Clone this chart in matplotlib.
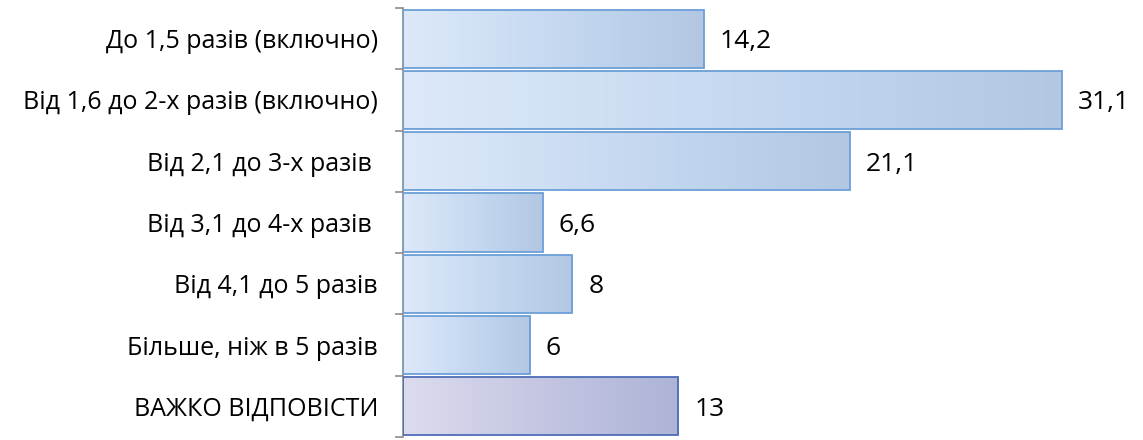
import numpy as np
import matplotlib.pyplot as plt
from matplotlib.patches import Rectangle
from matplotlib.colors import LinearSegmentedColormap

categories = ['До 1,5 разів (включно)', 'Від 1,6 до 2-х разів (включно)',
              'Від 2,1 до 3-х разів ', 'Від 3,1 до 4-х разів ',
              'Від 4,1 до 5 разів', 'Більше, ніж в 5 разів', 'ВАЖКО ВІДПОВІСТИ']
values = [14.2, 31.1, 21.1, 6.6, 8, 6, 13]
labels = ['14,2', '31,1', '21,1', '6,6', '8', '6', '13']

plt.rcParams['font.family'] = ['Open Sans', 'DejaVu Sans']

fig = plt.figure(figsize=(11.43, 4.4), dpi=100)
ax = fig.add_axes([403/1143, 3/440, 1 - 403/1143 - 20/1143, 1 - 11/440])

blue = LinearSegmentedColormap.from_list('b', ['#dde9f9', '#c6d9f1', '#b3c7e3'])
lav = LinearSegmentedColormap.from_list('l', ['#dcdcee', '#c4c6e2', '#adb4d6'])

grad = np.linspace(0, 1, 256).reshape(1, -1)
h = 0.95
for i, v in enumerate(values):
    cm = lav if i == len(values) - 1 else blue
    ec = '#4e6db8' if i == len(values) - 1 else '#6b9fd8'
    im = ax.imshow(grad, cmap=cm, aspect='auto',
                   extent=(0, v, i + h / 2, i - h / 2), zorder=2)
    r = Rectangle((0, i - h / 2), v, h, facecolor='none', edgecolor=ec,
                  linewidth=1.3, zorder=3)
    ax.add_patch(r)
    im.set_clip_path(r)
    ax.text(v + 0.75, i + 0.05, labels[i], va='center', ha='left', fontsize=19)

ax.set_xlim(0, 34)
ax.set_ylim(len(values) - 0.5, -0.5)
ax.set_yticks(np.arange(len(values)))
ax.set_yticklabels(categories, fontsize=18)
ax.set_yticks(np.arange(len(values) + 1) - 0.5, minor=True)
ax.tick_params(axis='y', which='major', length=0, pad=18)
ax.tick_params(axis='y', which='minor', length=6, color='#8c8c8c', width=1.2)
ax.set_xticks([])
for s in ['top', 'right', 'bottom']:
    ax.spines[s].set_visible(False)
ax.spines['left'].set_color('#8c8c8c')
ax.spines['left'].set_linewidth(1.2)

fig.savefig('out.png', dpi=100)
